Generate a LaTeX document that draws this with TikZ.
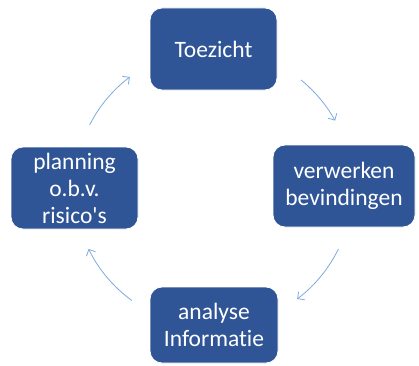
\documentclass[tikz,border=0pt]{standalone}
\usepackage{fontspec}
\setmainfont{Carlito}[Ligatures={NoCommon,NoRequired,NoContextual}]
\usepackage{xcolor}
\usetikzlibrary{calc}
\usetikzlibrary{positioning, arrows.meta}

\definecolor{stapblauw}{RGB}{47,85,151}
\definecolor{pijlblauw}{RGB}{125,170,222}

\begin{document}
\begin{tikzpicture}[x=1pt,y=1pt]
                % Define the styles for the steps and the cycle arrows
                \tikzstyle{stap}=[fill=stapblauw, draw=white, line width=0.8pt, rounded corners=12pt, text=white, align=center, font=\fontsize{23.5}{27}\selectfont, inner sep=0pt];
                \tikzstyle{cyclus}=[draw=pijlblauw, line width=0.8pt, -{Straight Barb[length=5pt,width=10pt]}];
                
                % Page size
                \useasboundingbox (0,0) rectangle (419,365);
                
                % Centre of the cycle
                \coordinate (M) at (213.5,177);
                
                % The four steps
                \node[stap, minimum width=127pt, minimum height=82pt] (toezicht) at (213.5,316) {Toezicht};
                \node[stap, minimum width=142pt, minimum height=82pt] (verwerken) at (344,179) {verwerken\\bevindingen};
                \node[stap, minimum width=128pt, minimum height=76pt] (analyse) at (214,40) {analyse\\Informatie};
                \node[stap, minimum width=127pt, minimum height=82pt] (planning) at (74.5,177) {planning\\o.b.v.\\risico\textquotesingle s};
                
                % Arrows along the circle, clockwise
                \foreach \van/\naar in {51/29, -26/-53, -126/-154, 153/127}
                    \draw[cyclus] (M) ++(\van:139) arc[start angle=\van, end angle=\naar, radius=139];
                
            \end{tikzpicture}
\end{document}
